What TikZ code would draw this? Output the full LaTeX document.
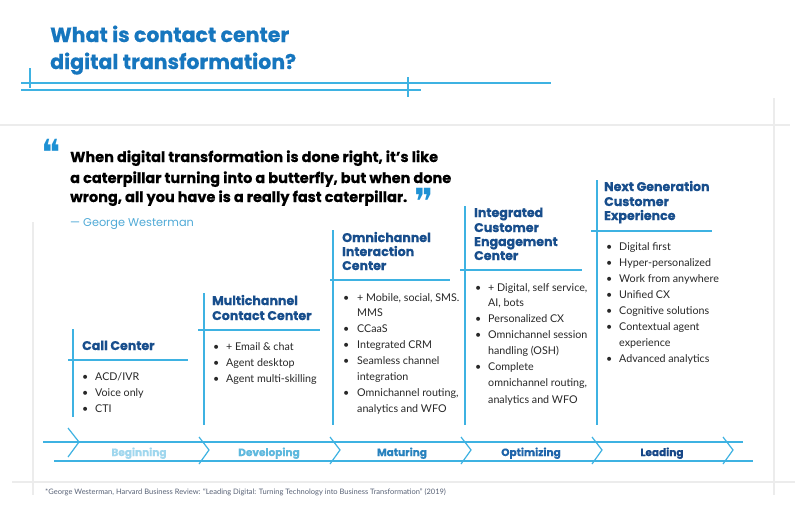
\documentclass[tikz,border=0pt]{standalone}
\usepackage{fontspec}
\setmainfont{Lato}
\newfontfamily\pop{Poppins}[BoldFeatures={FakeBold=0.6}]
\newfontfamily\dejab{DejaVu Sans}
\definecolor{titleblue}{RGB}{22,118,190}
\definecolor{lineblue}{RGB}{62,178,226}
\definecolor{headblue}{RGB}{24,78,140}
\definecolor{quoteblue}{RGB}{30,145,212}
\definecolor{authblue}{RGB}{80,170,215}
\definecolor{panelgray}{RGB}{236,236,236}
\definecolor{bodytext}{RGB}{40,40,40}
\definecolor{stA}{RGB}{160,215,238}
\definecolor{stB}{RGB}{95,185,222}
\definecolor{stC}{RGB}{40,130,190}
\definecolor{stD}{RGB}{30,100,170}
\definecolor{stE}{RGB}{22,70,135}
\definecolor{footgray}{RGB}{90,100,120}
\tikzset{
  blueline/.style={draw=lineblue, line width=1.4pt},
  grayline/.style={draw=panelgray, line width=1.2pt},
  maintitle/.style={anchor=base west, inner sep=0pt, font=\pop\bfseries\fontsize{20.5}{24}\selectfont, text=titleblue},
  quotetxt/.style={anchor=base west, inner sep=0pt, font=\pop\bfseries\fontsize{14.5}{18}\selectfont, text=black},
  qmark/.style={inner sep=0pt, font=\dejab\fontsize{36}{36}\selectfont, text=quoteblue},
  colhead/.style={anchor=base west, inner sep=0pt, font=\pop\bfseries\fontsize{12.6}{14}\selectfont, text=headblue},
  item/.style={anchor=base west, inner sep=0pt, font=\fontsize{10.7}{12}\selectfont, text=bodytext},
  bul/.style={anchor=base west, inner sep=0pt, font=\fontsize{10.7}{12}\selectfont, text=bodytext},
  stage/.style={anchor=base, inner sep=0pt, font=\pop\bfseries\fontsize{10.5}{12}\selectfont}
}
\begin{document}
\begin{tikzpicture}[x=1pt,y=-1pt]
\useasboundingbox (0,0) rectangle (801,504);
\fill[white] (0,0) rectangle (801,504);
% panel frame lines
\draw[grayline] (0,125) -- (790,125);
\draw[grayline] (12,482) -- (795,482);
\draw[grayline] (33,222) -- (33,495);
\draw[grayline] (774,98) -- (774,495);
% title
\node[maintitle] (t1) at (50,42) {What is contact center};
\node[maintitle] (t2) at (50,69) {digital transformation?};
\draw[blueline] (21,83) -- (551,83);
\draw[blueline] (21,90) -- (421,90);
\draw[blueline] (30,68) -- (30,88);
\draw[blueline] (408,77) -- (408,97);
% quote
\node[quotetxt] (q1) at (70,162) {When digital transformation is done right, it’s like};
\node[quotetxt] (q2) at (70,183) {a caterpillar turning into a butterfly, but when done};
\node[quotetxt] (q3) at (70,202) {wrong, all you have is a really fast caterpillar.};
\node[qmark] (qo) at (51,152) {❝};
\node[qmark] (qc) at (424,201) {❞};
\node[anchor=base west, inner sep=0pt, font=\pop\fontsize{11.3}{13}\selectfont, text=authblue] (auth) at (70,226) {— George Westerman};
% column 1
\draw[blueline] (73,329) -- (73,417);
\draw[blueline] (68,360) -- (188,360);
\node[colhead] (h1) at (82,350) {Call Center};
\node[bul] (b11) at (82,380) {•};
\node[item] (i11) at (95,380) {ACD/IVR};
\node[bul] (b12) at (82,396) {•};
\node[item] (i12) at (95,396) {Voice only};
\node[bul] (b13) at (82,412) {•};
\node[item] (i13) at (95,412) {CTI};
% column 2
\draw[blueline] (204,293) -- (204,425);
\draw[blueline] (198,330) -- (320,330);
\node[colhead] (h2a) at (212,305) {Multichannel};
\node[colhead] (h2b) at (212,320) {Contact Center};
\foreach \yy/\tx [count=\i] in {350/+ Email \& chat,366/Agent desktop,382/Agent multi-skilling}{
  \node[bul] (b2\i) at (213,\yy) {•};
  \node[item] (i2\i) at (226,\yy) {\tx};
}
% column 3
\draw[blueline] (333,230) -- (333,425);
\draw[blueline] (330,280) -- (450,280);
\node[colhead] (h3a) at (342,242) {Omnichannel};
\node[colhead] (h3b) at (342,256) {Interaction};
\node[colhead] (h3c) at (342,270) {Center};
\foreach \yy [count=\i] in {301,332,348,364,396}{
  \node[bul] (b3\i) at (343,\yy) {•};
}
\foreach \yy/\tx [count=\i] in {301/+ Mobile{,} social{,} SMS.,316/MMS,332/CCaaS,348/Integrated CRM,364/Seamless channel,380/integration,396/Omnichannel routing{,},412/analytics and WFO}{
  \node[item] (i3\i) at (357,\yy) {\tx};
}
% column 4
\draw[blueline] (465,206) -- (465,425);
\draw[blueline] (460,270) -- (582,270);
\node[colhead] (h4a) at (474,217) {Integrated};
\node[colhead] (h4b) at (474,232) {Customer};
\node[colhead] (h4c) at (474,246) {Engagement};
\node[colhead] (h4d) at (474,260) {Center};
\foreach \yy [count=\i] in {291,322,338,370}{
  \node[bul] (b4\i) at (475,\yy) {•};
}
\foreach \yy/\tx [count=\i] in {291/+ Digital{,} self service{,},306/AI{,} bots,322/Personalized CX,338/Omnichannel session,354/handling (OSH),370/Complete,386/omnichannel routing{,},403/analytics and WFO}{
  \node[item] (i4\i) at (488,\yy) {\tx};
}
% column 5
\draw[blueline] (597,180) -- (597,425);
\draw[blueline] (591,231) -- (712,231);
\node[colhead] (h5a) at (604,191) {Next Generation};
\node[colhead] (h5b) at (604,206) {Customer};
\node[colhead] (h5c) at (604,220) {Experience};
\foreach \yy [count=\i] in {250,266,282,298,314,330,362}{
  \node[bul] (b5\i) at (606,\yy) {•};
}
\foreach \yy/\tx [count=\i] in {250/Digital first,266/Hyper-personalized,282/Work from anywhere,298/Unified CX,314/Cognitive solutions,330/Contextual agent,346/experience,362/Advanced analytics}{
  \node[item] (i5\i) at (619,\yy) {\tx};
}
% arrow band
\draw[blueline, line width=1.2pt] (43,442) -- (743,442);
\draw[blueline, line width=1.2pt] (54,461) -- (753,461);
\draw[blueline, line width=1.2pt] (68,428) -- (79,442) -- (68,457);
\foreach \xx in {209,340,471,602,733}{
  \draw[blueline, line width=1.2pt] (\xx-10,437) -- (\xx,450) -- (\xx-10,464);
}
\node[stage, text=stA] (s1) at (139,456) {Beginning};
\node[stage, text=stB] (s2) at (269,456) {Developing};
\node[stage, text=stC] (s3) at (402,456) {Maturing};
\node[stage, text=stD] (s4) at (531,456) {Optimizing};
\node[stage, text=stE] (s5) at (662,456) {Leading};
% footnote
\node[anchor=base west, inner sep=0pt, font=\fontsize{7.5}{8}\selectfont, text=footgray] (fn) at (45,494) {*George Westerman, Harvard Business Review: “Leading Digital: Turning Technology into Business Transformation” (2019)};
\end{tikzpicture}
\end{document}
